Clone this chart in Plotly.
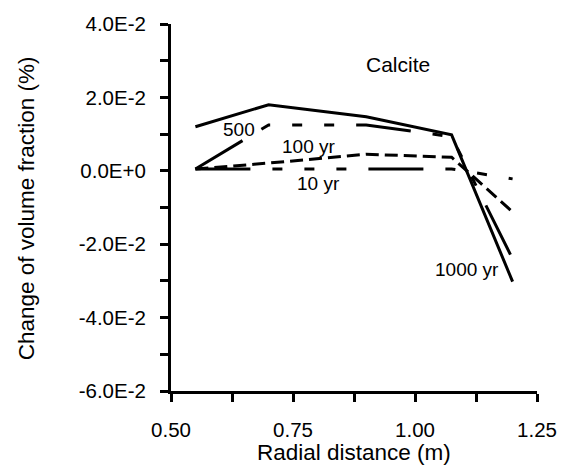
import plotly.graph_objects as go

# ---- data ----
radial_m = [0.55, 0.70, 0.90, 1.075, 1.20]
calcite_10yr = [0.0005, 0.0005, 0.0005, 0.0005, -0.0022]
calcite_100yr = [0.0005, 0.0021, 0.0045, 0.0037, -0.0112]
calcite_500yr = [0.0005, 0.0125, 0.0125, 0.0093, -0.0240]
calcite_1000yr = [0.0120, 0.0180, 0.0147, 0.0098, -0.0302]

y_tick_values = [-0.06, -0.05, -0.04, -0.03, -0.02, -0.01, 0.0, 0.01, 0.02, 0.03, 0.04]
y_tick_labels = ["-6.0E-2", "", "-4.0E-2", "", "-2.0E-2", "", "0.0E+0", "", "2.0E-2", "", "4.0E-2"]
x_tick_values = [0.5, 0.625, 0.75, 0.875, 1.0, 1.125, 1.25]
x_tick_labels = ["0.50", "", "0.75", "", "1.00", "", "1.25"]

FONT = "Arial, Liberation Sans, sans-serif"
DASH_LONG_DOTS = "55px,22px,10px,22px,10px,22px,10px,22px"

fig = go.Figure()
series = [
    ("10 yr", calcite_10yr, DASH_LONG_DOTS),
    ("100 yr", calcite_100yr, "13px,6px"),
    ("500 yr", calcite_500yr, DASH_LONG_DOTS),
    ("1000 yr", calcite_1000yr, "solid"),
]
for name, ys, dash in series:
    fig.add_trace(go.Scatter(x=radial_m, y=ys, mode="lines", name=name,
                             line=dict(color="black", width=3, dash=dash)))

labels = [
    ("500", 0.6395, 0.0112, 19),
    ("100 yr", 0.782, 0.0065, 19),
    ("10 yr", 0.8026, -0.0034, 19),
    ("1000 yr", 1.106, -0.0268, 19),
    ("Calcite", 0.965, 0.0289, 21),
]
for txt, lx, ly, fs in labels:
    fig.add_annotation(x=lx, y=ly, text=txt, showarrow=False,
                       font=dict(family=FONT, size=fs, color="black"))

fig.add_annotation(xref="paper", yref="paper", x=0.5, y=-0.168, xanchor="center", yanchor="middle",
                   text="Radial distance (m)", showarrow=False,
                   font=dict(family=FONT, size=22.5, color="black"))
fig.add_annotation(xref="paper", yref="paper", x=-0.396, y=0.498, xanchor="center", yanchor="middle",
                   text="Change of volume fraction (%)", textangle=-90, showarrow=False,
                   font=dict(family=FONT, size=22.5, color="black"))

axis_common = dict(showgrid=False, zeroline=False, showline=True, linecolor="black", linewidth=3,
                   ticks="outside", ticklen=8, tickwidth=2.5, tickcolor="black",
                   tickfont=dict(family=FONT, size=20.5, color="black"), tickmode="array")

fig.update_xaxes(range=[0.5, 1.25], tickvals=x_tick_values, ticktext=x_tick_labels,
                 ticklabelstandoff=10, **axis_common)
fig.update_yaxes(range=[-0.06, 0.04], tickvals=y_tick_values, ticktext=y_tick_labels,
                 ticklabelstandoff=10, **axis_common)

fig.update_layout(width=569, height=468, margin=dict(l=171, r=26, t=18, b=77),
                  paper_bgcolor="white", plot_bgcolor="white", showlegend=False,
                  font=dict(family=FONT, color="black"))

# remove the browser's default 8px page margin so the figure sits at the window origin
fig.write_html("out.html", config={"displayModeBar": False},
               post_script="document.body.style.margin='0';")
